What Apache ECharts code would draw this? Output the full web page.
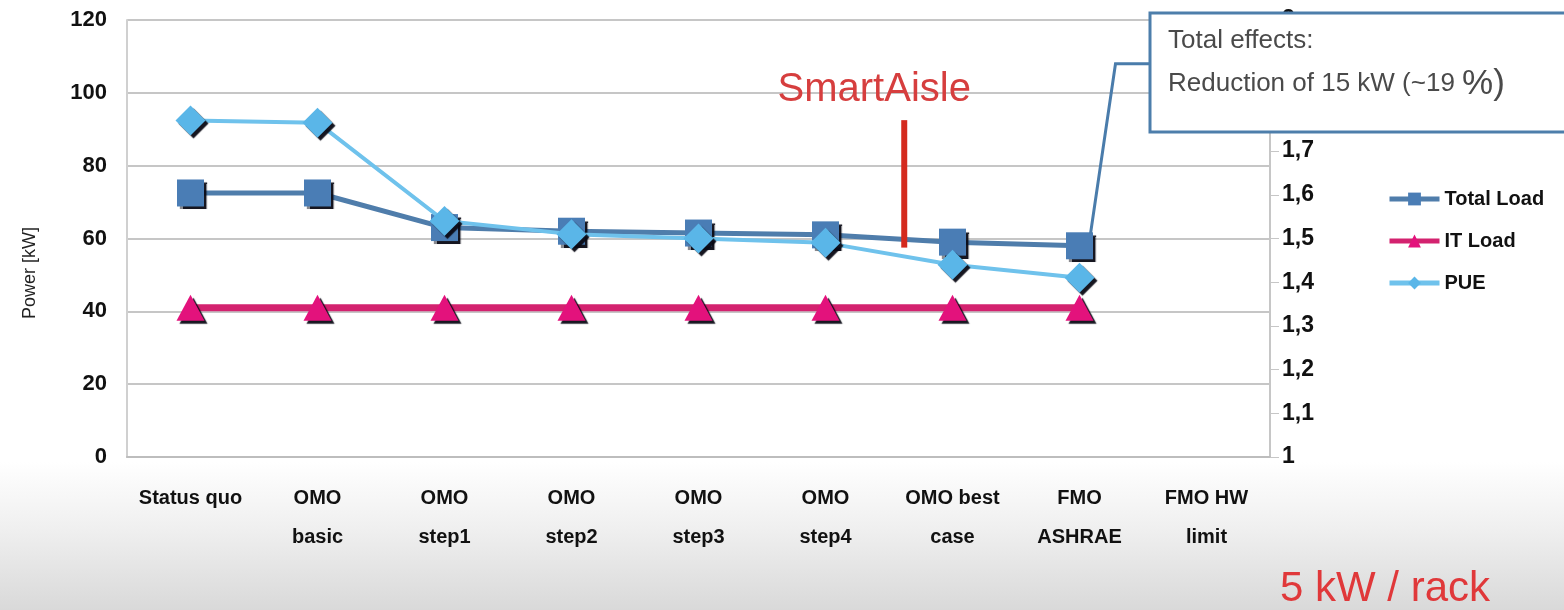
<!DOCTYPE html>
<html>
<head>
<meta charset="utf-8">
<title>Power and PUE per cooling option</title>
<script src="https://cdn.jsdelivr.net/npm/echarts@6/dist/echarts.min.js"></script>
<style>
  html, body { margin: 0; padding: 0; }
  body {
    width: 1564px; height: 610px; overflow: hidden;
    background: linear-gradient(to bottom, #ffffff 0px, #ffffff 462px, #efefef 530px, #d9d9d9 610px);
  }
  #chart { width: 1564px; height: 610px; }
</style>
</head>
<body>
<div id="chart"></div>
<script>
// Cooling configurations (x axis)
const categories = [
  'Status quo', 'OMO\nbasic', 'OMO\nstep1', 'OMO\nstep2', 'OMO\nstep3',
  'OMO\nstep4', 'OMO best\ncase', 'FMO\nASHRAE', 'FMO HW\nlimit'
];
// Power in kW (left axis)
const totalLoad = [72.5, 72.5, 63, 62, 61.5, 61, 59, 58, null];
const itLoad    = [41, 41, 41, 41, 41, 41, 41, 41, null];
// PUE (right axis)
const pue       = [1.77, 1.765, 1.54, 1.51, 1.5, 1.49, 1.44, 1.41, null];

// Axis ranges
const powerTicks = { min: 0, max: 120, interval: 20 };
const pueTicks   = { min: 1, max: 2, interval: 0.1 };

const SANS = "'Liberation Sans', Arial, sans-serif";

const chart = echarts.init(document.getElementById('chart'), null, { renderer: 'canvas' });

const markerShadow = {
  shadowColor: 'rgba(10,10,20,0.95)',
  shadowBlur: 1,
  shadowOffsetX: 3,
  shadowOffsetY: 3
};

chart.setOption({
  backgroundColor: 'transparent',
  animation: false,
  grid: { left: 127, right: 294, top: 20, bottom: 153, containLabel: false },
  legend: {
    orient: 'vertical',
    left: 1382,
    top: 184,
    itemWidth: 50,
    itemHeight: 16,
    itemGap: 22,
    lineStyle: { width: 5 },
    textStyle: { fontFamily: SANS, fontWeight: 'bold', fontSize: 20, color: '#111' },
    data: ['Total Load', 'IT Load', 'PUE']
  },
  xAxis: {
    type: 'category',
    data: categories,
    boundaryGap: true,
    axisLine: { show: true, lineStyle: { color: '#bdbdbd', width: 2 } },
    axisTick: { show: false },
    axisLabel: {
      interval: 0,
      margin: 22,
      fontFamily: SANS,
      fontWeight: 'bold',
      fontSize: 20,
      lineHeight: 39,
      color: '#111'
    },
    splitLine: { show: false }
  },
  yAxis: [
    {
      type: 'value',
      min: powerTicks.min,
      max: powerTicks.max,
      interval: powerTicks.interval,
      axisLine: { show: true, lineStyle: { color: '#d0d0d0', width: 2 } },
      axisTick: { show: false },
      axisLabel: {
        margin: 20,
        fontFamily: SANS,
        fontWeight: 'bold',
        fontSize: 22,
        color: '#111'
      },
      splitLine: { show: true, lineStyle: { color: '#c6c6c6', width: 2 } }
    },
    {
      type: 'value',
      position: 'right',
      min: pueTicks.min,
      max: pueTicks.max,
      interval: pueTicks.interval,
      axisLine: { show: true, lineStyle: { color: '#c6c6c6', width: 2 } },
      axisTick: { show: true, length: 9, inside: false, lineStyle: { color: '#c6c6c6', width: 1 } },
      axisLabel: {
        margin: 12,
        fontFamily: SANS,
        fontWeight: 'bold',
        fontSize: 23,
        color: '#111',
        formatter: v => String(Math.round(v * 10) / 10).replace('.', ',')
      },
      splitLine: { show: false }
    }
  ],
  series: [
    {
      name: 'Total Load',
      type: 'line',
      yAxisIndex: 0,
      data: totalLoad,
      symbol: 'rect',
      symbolSize: 27,
      color: '#4a7db5',
      lineStyle: { color: '#4f7dab', width: 5 },
      itemStyle: Object.assign({ color: '#4a7db5' }, markerShadow),
      z: 3
    },
    {
      name: 'IT Load',
      type: 'line',
      yAxisIndex: 0,
      data: itLoad,
      symbol: 'triangle',
      symbolSize: [28, 26],
      color: '#e3127c',
      lineStyle: { color: '#d3226f', width: 7 },
      itemStyle: Object.assign({ color: '#e3127c' }, markerShadow),
      z: 4
    },
    {
      name: 'PUE',
      type: 'line',
      yAxisIndex: 1,
      data: pue,
      symbol: 'diamond',
      symbolSize: [30, 30],
      color: '#5ab6e8',
      lineStyle: { color: '#6fc2ec', width: 4 },
      itemStyle: Object.assign({ color: '#5ab6e8' }, markerShadow),
      z: 5
    }
  ]
});

// Annotations positioned from the chart's own scales
function px(idx, val) {
  return chart.convertToPixel({ xAxisIndex: 0, yAxisIndex: 0 }, [idx, val]);
}
const step4 = px(5, 0), best = px(6, 0);
const smartX = step4[0] + (best[0] - step4[0]) * 0.62;
const smartTop = px(5, 92.5)[1], smartBottom = px(5, 57.5)[1];

const ashrae = px(7, totalLoad[7]);
const calloutY = px(7, 108)[1];
const boxLeft = 1150, boxTop = 13, boxHeight = 119;

chart.setOption({
  graphic: [
    {
      type: 'text',
      rotation: Math.PI / 2,
      x: 30, y: 273,
      style: { text: 'Power [kW]', font: "18px " + SANS, fill: '#222', align: 'center', verticalAlign: 'middle' },
      z: 10
    },
    {
      type: 'text',
      x: smartX - 30, y: 90,
      style: { text: 'SmartAisle', font: "40px " + SANS, fill: '#d63e3e', align: 'center', verticalAlign: 'middle' },
      z: 10
    },
    {
      type: 'line',
      shape: { x1: smartX, y1: smartTop, x2: smartX, y2: smartBottom },
      style: { stroke: '#d42a1e', lineWidth: 6 },
      z: 10
    },
    {
      type: 'polyline',
      shape: { points: [[ashrae[0] + 11, ashrae[1] - 12], [ashrae[0] + 36, calloutY], [boxLeft, calloutY]] },
      style: { stroke: '#4a7cab', lineWidth: 3, fill: null },
      z: 20
    },
    {
      type: 'rect',
      shape: { x: boxLeft, y: boxTop, width: 440, height: boxHeight },
      style: { fill: '#ffffff', stroke: '#4d7eab', lineWidth: 3 },
      z: 20
    },
    {
      type: 'text',
      x: boxLeft + 18, y: 41,
      style: { text: 'Total effects:', font: "26px " + SANS, fill: '#4a4a4a', verticalAlign: 'middle' },
      z: 21
    },
    {
      type: 'text',
      x: boxLeft + 18, y: 84,
      style: {
        text: '{a|Reduction of 15 kW (~19 }{b|%)}',
        rich: {
          a: { font: "26px " + SANS, fill: '#4a4a4a' },
          b: { font: "35px " + SANS, fill: '#4a4a4a' }
        },
        verticalAlign: 'middle'
      },
      z: 21
    },
    {
      type: 'text',
      x: 1280, y: 589,
      style: { text: '5 kW / rack', font: "42px " + SANS, fill: '#e0383a', verticalAlign: 'middle' },
      z: 10
    }
  ]
});
</script>
</body>
</html>
